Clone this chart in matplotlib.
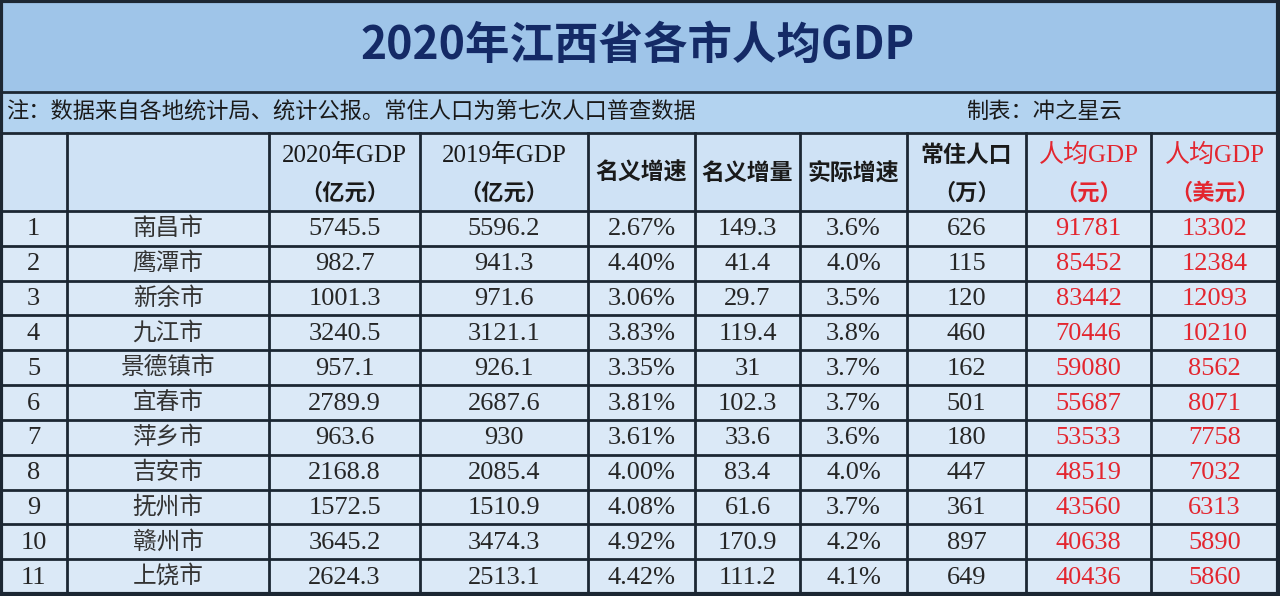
import matplotlib.pyplot as plt
from matplotlib.patches import Rectangle

plt.rcParams['font.family'] = ['Noto Sans CJK SC', 'DejaVu Sans']

# 表格数据
title = '2020年江西省各市人均GDP'
note_left = '注：数据来自各地统计局、统计公报。常住人口为第七次人口普查数据'
note_right = '制表：冲之星云'
header_top = ['', '', '2020年GDP', '2019年GDP', '名义增速', '名义增量', '实际增速', '常住人口', '人均GDP', '人均GDP']
header_bottom = ['', '', '（亿元）', '（亿元）', '', '', '', '（万）', '（元）', '（美元）']

ranks = [1, 2, 3, 4, 5, 6, 7, 8, 9, 10, 11]
cities = ['南昌市', '鹰潭市', '新余市', '九江市', '景德镇市', '宜春市', '萍乡市', '吉安市', '抚州市', '赣州市', '上饶市']
gdp_2020 = [5745.5, 982.7, 1001.3, 3240.5, 957.1, 2789.9, 963.6, 2168.8, 1572.5, 3645.2, 2624.3]
gdp_2019 = [5596.2, 941.3, 971.6, 3121.1, 926.1, 2687.6, 930, 2085.4, 1510.9, 3474.3, 2513.1]
nominal_growth = [2.67, 4.40, 3.06, 3.83, 3.35, 3.81, 3.61, 4.00, 4.08, 4.92, 4.42]
nominal_increase = [149.3, 41.4, 29.7, 119.4, 31, 102.3, 33.6, 83.4, 61.6, 170.9, 111.2]
real_growth = [3.6, 4.0, 3.5, 3.8, 3.7, 3.7, 3.6, 4.0, 3.7, 4.2, 4.1]
population = [626, 115, 120, 460, 162, 501, 180, 447, 361, 897, 649]
gdp_per_cap_cny = [91781, 85452, 83442, 70446, 59080, 55687, 53533, 48519, 43560, 40638, 40436]
gdp_per_cap_usd = [13302, 12384, 12093, 10210, 8562, 8071, 7758, 7032, 6313, 5890, 5860]

# 布局
col_edges = [0, 67, 269, 420, 588, 695, 800, 907, 1026, 1151, 1278]
title_bottom, note_bottom, header_bottom_y = 92, 133, 211
row_h = (594 - header_bottom_y) / len(ranks)

line_color = '#1c2733'
title_bg = '#9fc5e9'
note_bg = '#b3d3f0'
header_bg = '#cfe2f5'
cell_bg = '#dbe9f7'
red = '#e3262f'
serif = ['Liberation Serif', 'Noto Sans CJK SC']

fig = plt.figure(figsize=(12.8, 5.96), dpi=100)
ax = fig.add_axes([0, 0, 1, 1])
ax.set_xlim(0, 1280)
ax.set_ylim(596, 0)
ax.axis('off')

# 背景
ax.add_patch(Rectangle((0, 0), 1280, title_bottom, color=title_bg, zorder=0))
ax.add_patch(Rectangle((0, title_bottom), 1280, note_bottom - title_bottom, color=note_bg, zorder=0))
ax.add_patch(Rectangle((0, note_bottom), 1280, header_bottom_y - note_bottom, color=header_bg, zorder=0))
ax.add_patch(Rectangle((0, header_bottom_y), 1280, 596 - header_bottom_y, color=cell_bg, zorder=0))

# 标题和备注
ax.text(638, 46, title, ha='center', va='center', fontsize=32, fontweight='bold', color='#142a66')
ax.text(6, 111, note_left, ha='left', va='center', fontsize=16, color='#1a1a1a')
ax.text(966, 111, note_right, ha='left', va='center', fontsize=16, color='#1a1a1a')

# 网格线
ax.plot([0, 1280], [title_bottom, title_bottom], color=line_color, lw=2)
ax.plot([0, 1280], [note_bottom, note_bottom], color=line_color, lw=2)
for i in range(len(ranks) + 1):
    y = header_bottom_y + i * row_h
    ax.plot([0, 1280], [y, y], color=line_color, lw=2 if i < len(ranks) else 3)
for x in col_edges[1:-1]:
    ax.plot([x, x], [note_bottom, 594], color=line_color, lw=2)
ax.plot([1, 1], [0, 594], color=line_color, lw=3)
ax.plot([1278, 1278], [0, 594], color=line_color, lw=3)
ax.plot([0, 1280], [1, 1], color=line_color, lw=3)

centers = [(col_edges[i] + col_edges[i + 1]) / 2 for i in range(len(col_edges) - 1)]

# 表头
for j, (top, bot) in enumerate(zip(header_top, header_bottom)):
    if not top:
        continue
    color = red if j >= 8 else '#1a1a1a'
    if bot:
        if 'GDP' in top:
            ax.text(centers[j], 155, top, ha='center', va='center', fontsize=18,
                    color=color, family=serif)
        else:
            ax.text(centers[j], 155, top, ha='center', va='center', fontsize=16.5,
                    fontweight='bold', color=color)
        ax.text(centers[j], 193, bot, ha='center', va='center', fontsize=16,
                fontweight='bold', color=color)
    else:
        ax.text(centers[j], 173, top, ha='center', va='center', fontsize=16.5,
                fontweight='bold', color=color)

# 数据行
for i in range(len(ranks)):
    y = header_bottom_y + (i + 0.5) * row_h
    cells = [
        str(ranks[i]),
        cities[i],
        f'{gdp_2020[i]:g}',
        f'{gdp_2019[i]:g}',
        f'{nominal_growth[i]:.2f}%',
        f'{nominal_increase[i]:g}',
        f'{real_growth[i]:.1f}%',
        str(population[i]),
        str(gdp_per_cap_cny[i]),
        str(gdp_per_cap_usd[i]),
    ]
    for j, txt in enumerate(cells):
        color = red if j >= 8 else '#262626'
        if j == 1:
            ax.text(centers[j], y, txt, ha='center', va='center', fontsize=17, color='#333333')
        else:
            ax.text(centers[j], y + 1, txt, ha='center', va='center', fontsize=19,
                    color=color, family=serif)

fig.savefig('out.png', dpi=100)
